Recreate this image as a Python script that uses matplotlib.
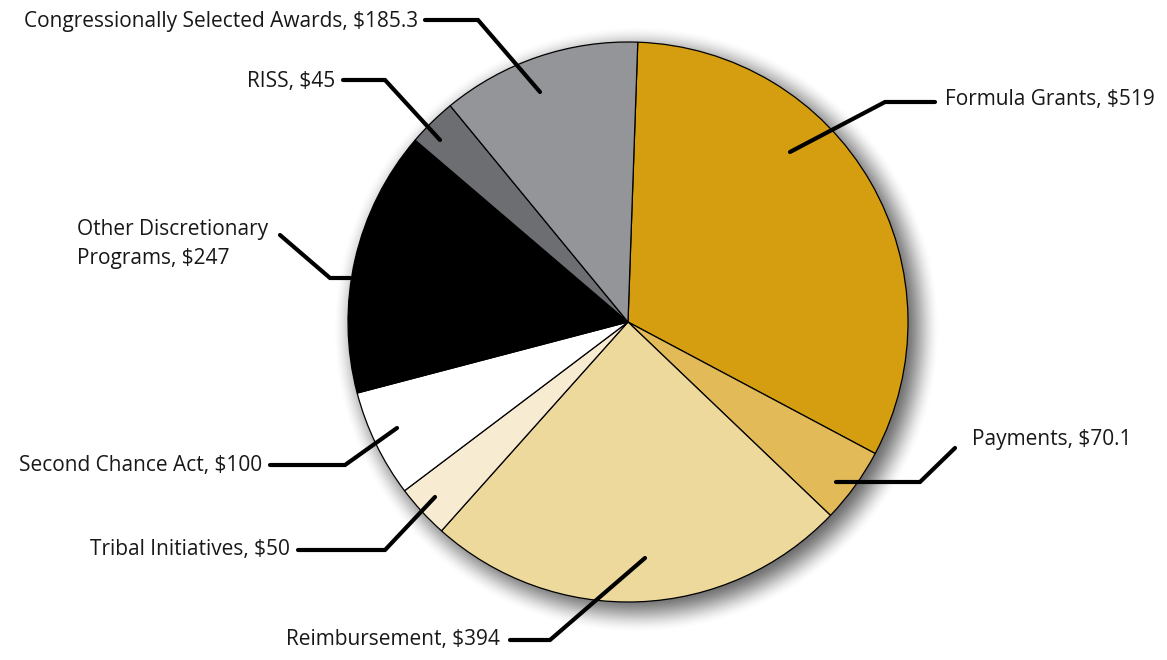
import numpy as np
import matplotlib
matplotlib.use("Agg")
import matplotlib.pyplot as plt
from matplotlib import font_manager

labels = ["Formula Grants", "Payments", "Reimbursement", "Tribal Initiatives",
          "Second Chance Act", "Other Discretionary\nPrograms", "RISS",
          "Congressionally Selected Awards"]
values = [519, 70.1, 394, 50, 100, 247, 45, 185.3]
value_text = ["$519", "$70.1", "$394", "$50", "$100", "$247", "$45", "$185.3"]
colors = ["#D49E10", "#E2BA58", "#EDD99C", "#F7EBD2", "#FFFFFF", "#000000",
          "#6D6E71", "#939598"]

names = {f.name for f in font_manager.fontManager.ttflist}
fam = [f for f in ["Liberation Sans Narrow", "Open Sans", "DejaVu Sans"] if f in names]
plt.rcParams['font.family'] = fam

W, H = 1167, 660
fig = plt.figure(figsize=(W / 100, H / 100), dpi=100)
ax = fig.add_axes([0, 0, 1, 1])

cx, cy, r = 628, H - 322, 280

# soft shadow
xs = np.arange(0, W)
ys = np.arange(0, H)
X, Y = np.meshgrid(xs, ys)
d = np.hypot(X - (cx + 8), Y - (cy - 8))
t = np.clip((d - (r - 16)) / 40.0, 0, 1)
alpha = 0.6 * (1 - (3 * t ** 2 - 2 * t ** 3))
img = np.zeros((H, W, 4))
img[..., 3] = alpha
ax.imshow(img, extent=(0, W, 0, H), origin='lower', zorder=0, interpolation='bilinear')

ax.pie(values, colors=colors, startangle=88, counterclock=False,
       center=(cx, cy), radius=r, frame=True,
       wedgeprops=dict(edgecolor='black', linewidth=0.9))
ax.set_xlim(0, W)
ax.set_ylim(0, H)
ax.set_aspect('equal')
ax.axis('off')

# leader lines (pixel coords, y from top) and label placement
leaders = [
    ([(790, 152), (885, 102), (935, 102)], (945, 100), 'left'),
    ([(836, 482), (920, 482), (955, 448)], (972, 440), 'left'),
    ([(645, 558), (550, 640), (510, 640)], (500, 640), 'right'),
    ([(435, 497), (385, 550), (298, 550)], (290, 550), 'right'),
    ([(397, 428), (345, 465), (270, 465)], (262, 465), 'right'),
    ([(350, 278), (330, 278), (280, 235)], (268, 244), 'right'),
    ([(440, 140), (385, 80), (343, 80)], (335, 81), 'right'),
    ([(540, 92), (478, 20), (425, 20)], (418, 21), 'right'),
]
for (pts, tpos, ha), lab, vt in zip(leaders, labels, value_text):
    px = [p[0] for p in pts]
    py = [H - p[1] for p in pts]
    ax.plot(px, py, color='black', lw=3, solid_capstyle='round',
            solid_joinstyle='miter', zorder=5)
    ax.text(tpos[0], H - tpos[1], f"{lab}, {vt}", ha=ha, va='center',
            multialignment='left', fontsize=15, color='#1A1718',
            linespacing=1.5, zorder=6)

fig.savefig("out.png", dpi=100)
